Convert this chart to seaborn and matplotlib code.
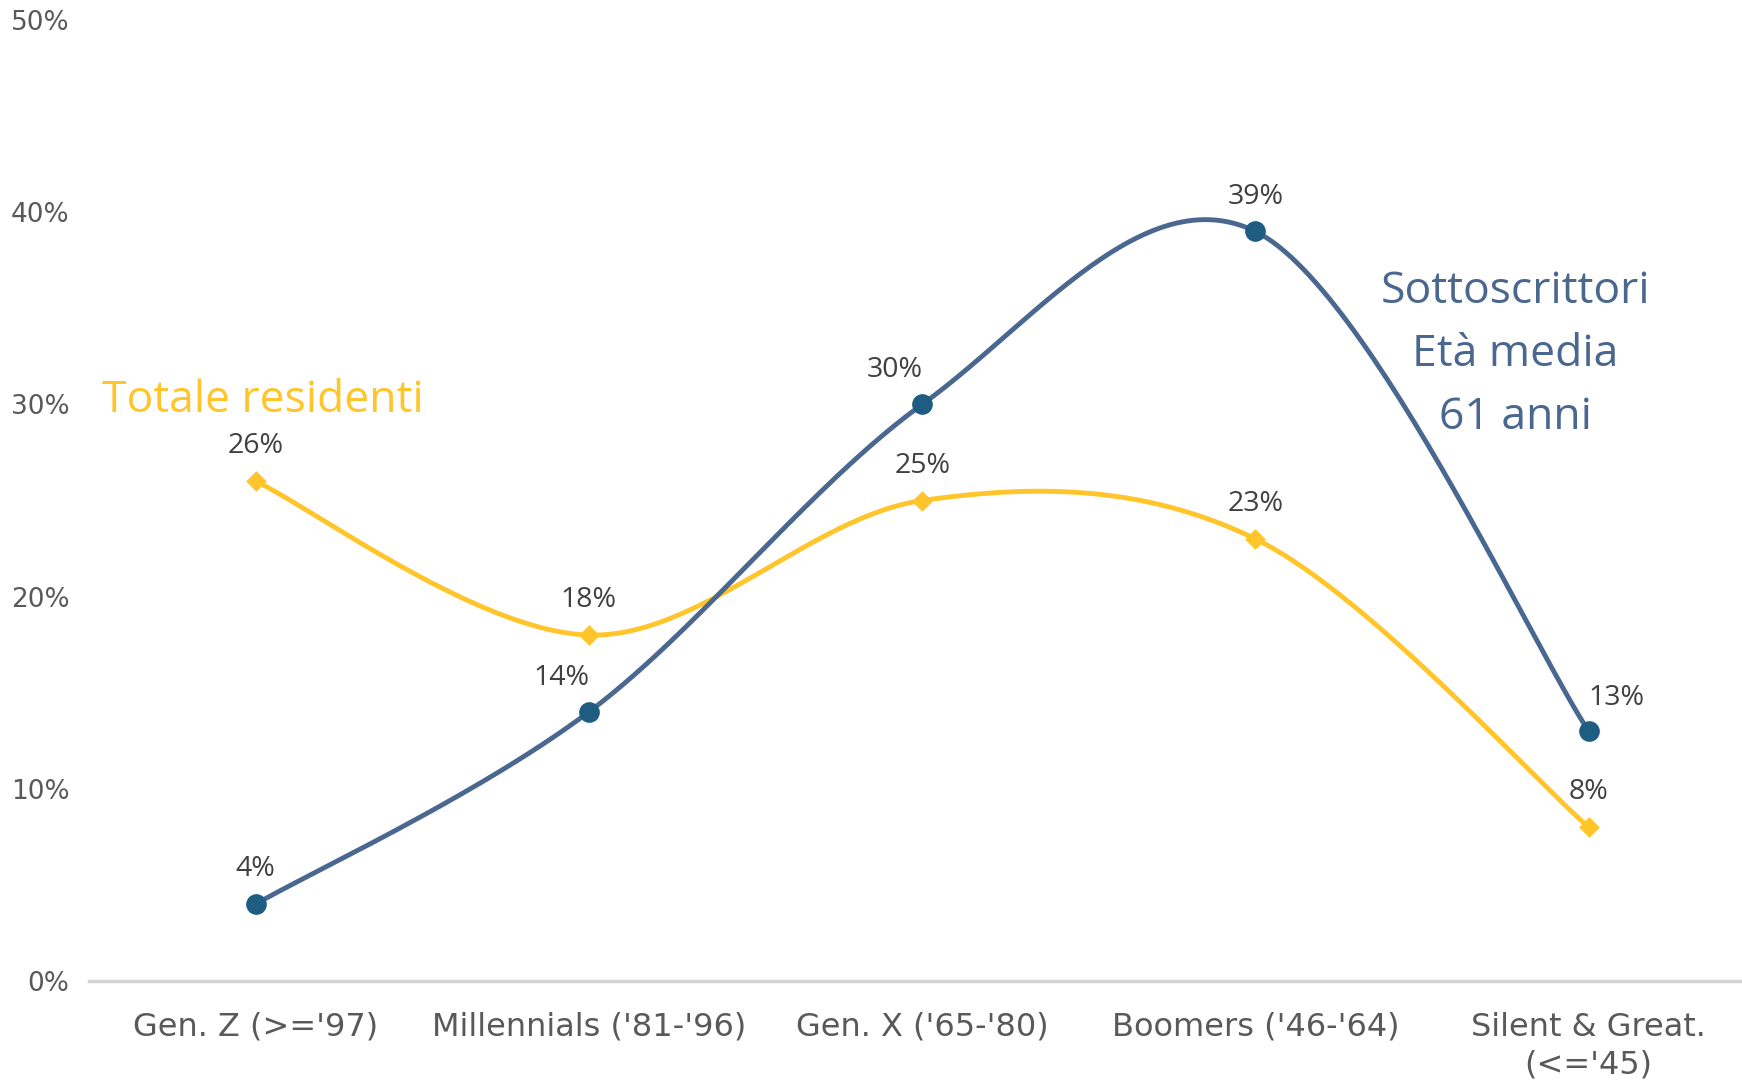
import numpy as np
import pandas as pd
import matplotlib
matplotlib.use("Agg")
import matplotlib.pyplot as plt
import seaborn as sns

categories = ["Gen. Z (>='97)", "Millennials ('81-'96)", "Gen. X ('65-'80)",
              "Boomers ('46-'64)", "Silent & Great.\n(<='45)"]
sottoscrittori = [4, 14, 30, 39, 13]
residenti = [26, 18, 25, 23, 8]
y_ticks = [0, 10, 20, 30, 40, 50]
y_tick_labels = ["0%", "10%", "20%", "30%", "40%", "50%"]

BLUE_LINE = "#4A6790"
BLUE_MARK = "#1F5C82"
YELLOW = "#FFC52B"
TEXT = "#404040"
TICK = "#595959"

sns.set_theme(style="white")
plt.rcParams["font.family"] = ["Open Sans", "DejaVu Sans"]


def smooth(values, n=60):
    """Bezier-smoothed path through the points (Excel-style smoothed line)."""
    pts = np.column_stack([np.arange(len(values), dtype=float), np.asarray(values, float)])
    xs, ys = [], []
    for i in range(len(pts) - 1):
        p0 = pts[max(i - 1, 0)]
        p1 = pts[i]
        p2 = pts[i + 1]
        p3 = pts[min(i + 2, len(pts) - 1)]
        c1 = p1 + (p2 - p0) / 6.0
        c2 = p2 - (p3 - p1) / 6.0
        t = np.linspace(0, 1, n)[:, None]
        seg = ((1 - t) ** 3) * p1 + 3 * ((1 - t) ** 2) * t * c1 + 3 * (1 - t) * t ** 2 * c2 + t ** 3 * p2
        xs.extend(seg[:, 0])
        ys.extend(seg[:, 1])
    return pd.DataFrame({"x": xs, "y": ys})


fig = plt.figure(figsize=(17.42, 10.81), dpi=100)
ax = fig.add_axes([89 / 1742, 100 / 1081, 1 - 89 / 1742, 961 / 1081])

curve_r = smooth(residenti)
curve_s = smooth(sottoscrittori)
sns.lineplot(data=curve_r, x="x", y="y", ax=ax, color=YELLOW, linewidth=3.5, sort=False)
sns.lineplot(data=curve_s, x="x", y="y", ax=ax, color=BLUE_LINE, linewidth=3.5, sort=False)

pts = pd.DataFrame({"x": np.arange(len(categories)), "r": residenti, "s": sottoscrittori})
sns.scatterplot(data=pts, x="x", y="r", ax=ax, marker="D", s=95, color=YELLOW,
                edgecolor=YELLOW, zorder=5)
sns.scatterplot(data=pts, x="x", y="s", ax=ax, marker="o", s=190, color=BLUE_MARK,
                edgecolor=BLUE_MARK, zorder=5)

# value labels
s_offsets = [(0, 15), (-20, 14), (-20, 15), (0, 15), (20, 14)]
r_offsets = [(0, 15), (0, 15), (0, 15), (0, 15), (0, 15)]
for i, v in enumerate(sottoscrittori):
    ax.annotate(f"{v}%", (i, v), xytext=s_offsets[i], textcoords="offset points",
                ha="center", va="bottom", fontsize=20.5, color=TEXT)
for i, v in enumerate(residenti):
    ax.annotate(f"{v}%", (i, v), xytext=r_offsets[i], textcoords="offset points",
                ha="center", va="bottom", fontsize=20.5, color=TEXT)

ax.text(-0.46, 30.2, "Totale residenti", color=YELLOW, fontsize=32, ha="left", va="center")
ax.text(3.78, 32.6, "Sottoscrittori\nEtà media\n61 anni", color=BLUE_LINE, fontsize=32,
        ha="center", va="center", linespacing=1.55)

ax.set_xlim(-0.5, 4.46)
ax.set_ylim(0, 50)
ax.set_xticks(range(len(categories)))
ax.set_xticklabels(categories, fontsize=23, color=TICK, family="DejaVu Sans",
                   linespacing=1.3)
ax.set_yticks(y_ticks)
ax.set_yticklabels(y_tick_labels, fontsize=19, color=TICK, family="DejaVu Sans")
ax.tick_params(axis="both", length=0)
ax.tick_params(axis="x", pad=22)
ax.tick_params(axis="y", pad=14)
ax.set_xlabel("")
ax.set_ylabel("")
for side in ["top", "right", "left"]:
    ax.spines[side].set_visible(False)
ax.spines["bottom"].set_color("#D4D4D4")
ax.spines["bottom"].set_linewidth(2.5)
ax.grid(False)

fig.savefig("out.png", dpi=100)
